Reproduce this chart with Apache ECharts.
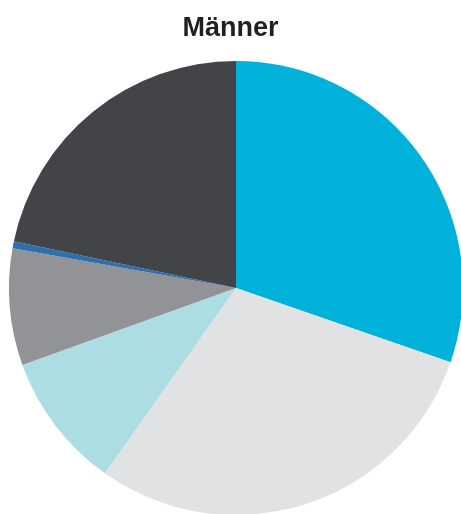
<!DOCTYPE html>
<html>
<head>
<meta charset="utf-8">
<script src="https://cdn.jsdelivr.net/npm/echarts@6/dist/echarts.min.js"></script>
<style>
  html, body { margin: 0; padding: 0; background: #ffffff; }
  #chart { width: 461px; height: 514px; }
</style>
</head>
<body>
<div id="chart"></div>
<script>
// Anteile (%) der Gruppen, im Uhrzeigersinn ab 12 Uhr
const categories = ['Kategorie 1', 'Kategorie 2', 'Kategorie 3', 'Kategorie 4', 'Kategorie 5', 'Kategorie 6'];
const values = [30.3, 29.5, 9.7, 8.3, 0.5, 21.7];
const colors = ['#00b2d9', '#e1e2e4', '#acdde3', '#929396', '#2f6fae', '#434447'];

const chart = echarts.init(document.getElementById('chart'), null, { renderer: 'canvas' });
chart.setOption({
  animation: false,
  title: {
    text: 'Männer',
    left: 'center',
    top: 10,
    textStyle: {
      fontFamily: 'Liberation Sans, Arial, sans-serif',
      fontWeight: 'bold',
      fontSize: 27,
      color: '#231f20'
    }
  },
  series: [{
    type: 'pie',
    center: [236, 288],
    radius: [0, 227],
    startAngle: 90,
    clockwise: true,
    label: { show: false },
    labelLine: { show: false },
    emphasis: { disabled: true },
    itemStyle: { borderWidth: 0 },
    data: categories.map((name, i) => ({
      name,
      value: values[i],
      itemStyle: { color: colors[i] }
    }))
  }]
});
</script>
</body>
</html>
